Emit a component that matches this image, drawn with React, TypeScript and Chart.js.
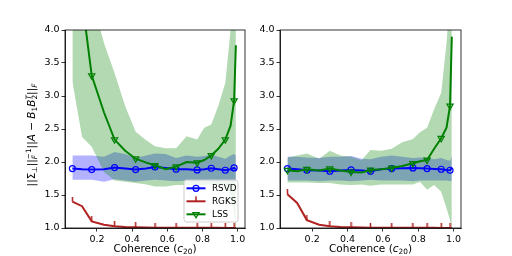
import React, { useEffect, useRef } from "react";
import { Chart, registerables } from "chart.js";
Chart.register(...registerables);

const coherence = [0.06, 0.115, 0.17, 0.24, 0.3, 0.36, 0.42, 0.48, 0.53, 0.59, 0.65, 0.71, 0.77, 0.81, 0.85, 0.89, 0.93, 0.96, 0.98, 0.99];
const xTicks = [0.2, 0.4, 0.6, 0.8, 1.0];
const yTicks = [1.0, 1.5, 2.0, 2.5, 3.0, 3.5, 4.0];
const seriesNames = ["RSVD", "RGKS", "LSS"];

// left panel
const L_RSVD = [1.9, 1.89, 1.885, 1.89, 1.915, 1.9, 1.885, 1.9, 1.925, 1.91, 1.89, 1.89, 1.88, 1.89, 1.905, 1.89, 1.875, 1.89, 1.91, 1.89];
const L_RSVD_HI = [2.1, 2.1, 2.1, 2.08, 2.15, 2.12, 2.06, 2.1, 2.13, 2.12, 2.06, 2.1, 2.08, 2.09, 2.11, 2.08, 2.05, 2.1, 2.12, 2.1];
const L_RSVD_LO = [1.73, 1.73, 1.73, 1.7, 1.74, 1.72, 1.7, 1.72, 1.73, 1.72, 1.71, 1.72, 1.7, 1.72, 1.71, 1.7, 1.72, 1.71, 1.7, 1.71];
const L_RGKS = [1.4, 1.33, 1.1, 1.05, 1.025, 1.015, 1.01, 1.007, 1.005, 1.004, 1.003, 1.003, 1.002, 1.002, 1.002, 1.002, 1.001, 1.001, 1.001, 1.001];
const L_LSS = [6.0, 4.46, 3.31, 2.75, 2.34, 2.17, 2.05, 1.99, 1.95, 1.89, 1.93, 2.0, 1.99, 2.03, 2.1, 2.2, 2.34, 2.55, 2.93, 3.77];
const L_LSS_HI = [8.5, 6.0, 4.5, 3.8, 3.35, 2.85, 2.46, 2.33, 2.24, 2.21, 2.21, 2.39, 2.34, 2.52, 2.57, 2.85, 3.2, 4.0, 5.5, 6.0];
const L_LSS_LO = [3.22, 2.38, 2.23, 1.85, 1.72, 1.7, 1.68, 1.66, 1.63, 1.63, 1.65, 1.65, 1.65, 1.65, 1.66, 1.65, 1.62, 1.5, 1.2, 0.9];

// right panel
const R_RSVD = [1.9, 1.89, 1.875, 1.87, 1.86, 1.87, 1.88, 1.87, 1.86, 1.89, 1.9, 1.905, 1.91, 1.905, 1.9, 1.895, 1.89, 1.88, 1.875, 1.91];
const R_RSVD_HI = [2.08, 2.08, 2.07, 2.06, 2.08, 2.08, 2.09, 2.05, 2.04, 2.08, 2.1, 2.08, 2.06, 2.07, 2.06, 2.04, 2.06, 2.03, 2.02, 2.08];
const R_RSVD_LO = [1.72, 1.72, 1.72, 1.71, 1.72, 1.72, 1.71, 1.72, 1.73, 1.72, 1.72, 1.72, 1.71, 1.72, 1.72, 1.72, 1.72, 1.72, 1.71, 1.72];
const R_RGKS = [1.51, 1.38, 1.12, 1.05, 1.025, 1.015, 1.01, 1.007, 1.005, 1.004, 1.003, 1.003, 1.002, 1.002, 1.002, 1.002, 1.001, 1.001, 1.001, 1.001];
const R_LSS = [1.875, 1.86, 1.89, 1.87, 1.9, 1.87, 1.85, 1.84, 1.88, 1.89, 1.91, 1.94, 1.98, 2.01, 2.03, 2.2, 2.36, 2.52, 2.85, 3.9];
const R_LSS_HI = [2.07, 2.1, 2.13, 2.05, 2.17, 2.1, 2.08, 2.03, 2.18, 2.17, 2.2, 2.3, 2.35, 2.45, 2.52, 2.8, 3.05, 3.8, 4.5, 4.8];
const R_LSS_LO = [1.69, 1.69, 1.69, 1.68, 1.68, 1.66, 1.65, 1.66, 1.64, 1.66, 1.66, 1.66, 1.66, 1.7, 1.58, 1.65, 1.55, 1.3, 1.12, 0.98];

const BLUE = "#0000ff";
const RED = "#b22222";
const GREEN = "#008000";
const FONT = "DejaVu Sans";

type Seg = { t: string; it?: boolean; sub?: string; subIt?: boolean; sup?: string; supIt?: boolean };

const yLabelSegs: Seg[] = [
  { t: "||Σ", sub: "⊥" },
  { t: "||", sub: "F", subIt: true, sup: "−1" },
  { t: "||" },
  { t: "A", it: true },
  { t: " − " },
  { t: "B", it: true, sub: "1" },
  { t: "B", it: true, sub: "2", sup: "T", supIt: true },
  { t: "||", sub: "F", subIt: true },
];
const xLabelSegs: Seg[] = [{ t: "Coherence (" }, { t: "c", it: true, sub: "20" }, { t: ")" }];

function fontStr(size: number, it?: boolean) {
  return `${it ? "italic " : ""}${size}px "${FONT}"`;
}

function drawMath(ctx: CanvasRenderingContext2D, segs: Seg[], cx: number, baseY: number, size: number) {
  const ss = size * 0.7;
  const measure = (t: string, s: number, it?: boolean) => {
    ctx.font = fontStr(s, it);
    return ctx.measureText(t).width;
  };
  let total = 0;
  for (const s of segs) {
    total += measure(s.t, size, s.it);
    total += Math.max(s.sub ? measure(s.sub, ss, s.subIt) : 0, s.sup ? measure(s.sup, ss, s.supIt) : 0);
  }
  let x = cx - total / 2;
  ctx.textAlign = "left";
  ctx.textBaseline = "alphabetic";
  ctx.fillStyle = "#000";
  for (const s of segs) {
    ctx.font = fontStr(size, s.it);
    ctx.fillText(s.t, x, baseY);
    x += ctx.measureText(s.t).width;
    let adv = 0;
    if (s.sub) {
      ctx.font = fontStr(ss, s.subIt);
      ctx.fillText(s.sub, x, baseY + size * 0.22);
      adv = Math.max(adv, ctx.measureText(s.sub).width);
    }
    if (s.sup) {
      ctx.font = fontStr(ss, s.supIt);
      ctx.fillText(s.sup, x, baseY - size * 0.42);
      adv = Math.max(adv, ctx.measureText(s.sup).width);
    }
    x += adv;
  }
}

function makeTick(): HTMLCanvasElement {
  const c = document.createElement("canvas");
  c.width = 3;
  c.height = 10;
  const g = c.getContext("2d")!;
  g.fillStyle = RED;
  g.fillRect(0.75, 0, 1.5, 5);
  return c;
}

type PanelProps = {
  rsvd: number[]; rsvdHi: number[]; rsvdLo: number[];
  rgks: number[]; lss: number[]; lssHi: number[]; lssLo: number[];
  yAxisWidth: number; padRight: number; showYLabel: boolean; showLegend: boolean;
};

function Panel(p: PanelProps) {
  const ref = useRef<HTMLCanvasElement>(null);
  useEffect(() => {
    const tick = makeTick();
    const pts = (arr: number[]) => coherence.map((x, i) => ({ x, y: arr[i] }));
    const everyOther = (r: number) => (c: any) => (c.dataIndex % 2 === 0 ? r : 0);

    const framePlugin = {
      id: "frame",
      afterDatasetsDraw(chart: any) {
        const { ctx, chartArea: a } = chart;
        ctx.save();
        ctx.strokeStyle = "#000";
        ctx.lineWidth = 0.8;
        ctx.strokeRect(a.left, a.top, a.right - a.left, a.bottom - a.top);
        ctx.restore();
      },
    };

    const labelPlugin = {
      id: "labels",
      afterDraw(chart: any) {
        const { ctx, chartArea: a } = chart;
        ctx.save();
        drawMath(ctx, xLabelSegs, (a.left + a.right) / 2, 252, 10.5);
        if (p.showYLabel) {
          ctx.translate(35, 135);
          ctx.rotate(-Math.PI / 2);
          drawMath(ctx, yLabelSegs, 0, 0, 10.5);
        }
        ctx.restore();
      },
    };

    const legendPlugin = {
      id: "customLegend",
      afterDraw(chart: any) {
        if (!p.showLegend) return;
        const { ctx, chartArea: a } = chart;
        const right = a.right - 7;
        const bottom = a.bottom - 6;
        const w = 54, h = 42;
        const left = right - w, top = bottom - h;
        ctx.save();
        ctx.beginPath();
        const r = 2.5;
        ctx.moveTo(left + r, top);
        ctx.arcTo(right, top, right, bottom, r);
        ctx.arcTo(right, bottom, left, bottom, r);
        ctx.arcTo(left, bottom, left, top, r);
        ctx.arcTo(left, top, right, top, r);
        ctx.closePath();
        ctx.fillStyle = "rgba(255,255,255,0.8)";
        ctx.fill();
        ctx.strokeStyle = "#cccccc";
        ctx.lineWidth = 1;
        ctx.stroke();
        const colors = [BLUE, RED, GREEN];
        for (let i = 0; i < 3; i++) {
          const y = top + 8.3 + i * 13;
          const x0 = left + 2.5, x1 = left + 21.5, xm = (x0 + x1) / 2;
          ctx.strokeStyle = colors[i];
          ctx.lineWidth = 2;
          ctx.beginPath();
          ctx.moveTo(x0, y);
          ctx.lineTo(x1, y);
          ctx.stroke();
          ctx.lineWidth = 1.2;
          if (i === 0) {
            ctx.beginPath();
            ctx.arc(xm, y, 3, 0, Math.PI * 2);
            ctx.stroke();
          } else if (i === 1) {
            ctx.fillStyle = RED;
            ctx.fillRect(xm - 0.75, y - 5, 1.5, 5);
          } else {
            const rr = 3.6;
            ctx.beginPath();
            ctx.moveTo(xm, y + rr);
            ctx.lineTo(xm + rr * 0.866, y - rr * 0.5);
            ctx.lineTo(xm - rr * 0.866, y - rr * 0.5);
            ctx.closePath();
            ctx.stroke();
          }
          ctx.fillStyle = "#000";
          ctx.font = `8.8px "${FONT}"`;
          ctx.textAlign = "left";
          ctx.textBaseline = "middle";
          ctx.fillText(seriesNames[i], left + 28, y + 0.5);
        }
        ctx.restore();
      },
    };

    const axisCommon = {
      type: "linear" as const,
      grid: { display: true, drawOnChartArea: false, drawTicks: true, tickLength: 3.5, color: "#000", lineWidth: 0.8 },
      border: { display: true, color: "#000", width: 0.8 },
    };

    const chart = new Chart(ref.current!, {
      type: "line",
      data: {
        datasets: [
          {
            label: seriesNames[0], data: pts(p.rsvd), borderColor: BLUE, borderWidth: 2, tension: 0,
            pointRadius: everyOther(3), pointBorderWidth: 1.2, pointBorderColor: BLUE,
            pointBackgroundColor: "rgba(0,0,0,0)", fill: false, order: 2,
          },
          {
            label: seriesNames[1], data: pts(p.rgks), borderColor: RED, borderWidth: 2, tension: 0,
            pointRadius: everyOther(3), pointStyle: tick as any, fill: false, order: 1,
          },
          {
            label: seriesNames[2], data: pts(p.lss), borderColor: GREEN, borderWidth: 2, tension: 0,
            pointRadius: everyOther(3.6), pointStyle: "triangle", pointRotation: 180, pointBorderWidth: 1.2,
            pointBorderColor: GREEN, pointBackgroundColor: "rgba(0,0,0,0)", fill: false, order: 0,
          },
          {
            label: "rsvd-band-hi", data: pts(p.rsvdHi), borderWidth: 0, pointRadius: 0, borderColor: "rgba(0,0,0,0)",
            backgroundColor: "rgba(0,0,255,0.3)", fill: "+1", tension: 0, order: 6,
          },
          {
            label: "rsvd-band-lo", data: pts(p.rsvdLo), borderWidth: 0, pointRadius: 0, borderColor: "rgba(0,0,0,0)",
            fill: false, tension: 0, order: 6,
          },
          {
            label: "lss-band-hi", data: pts(p.lssHi), borderWidth: 0, pointRadius: 0, borderColor: "rgba(0,0,0,0)",
            backgroundColor: "rgba(0,128,0,0.3)", fill: "+1", tension: 0, order: 5,
          },
          {
            label: "lss-band-lo", data: pts(p.lssLo), borderWidth: 0, pointRadius: 0, borderColor: "rgba(0,0,0,0)",
            fill: false, tension: 0, order: 5,
          },
        ],
      },
      options: {
        animation: false,
        responsive: false,
        events: [],
        layout: { padding: { left: 0, right: p.padRight, top: 30, bottom: 0 } },
        plugins: {
          legend: { display: false },
          tooltip: { enabled: false },
          filler: { drawTime: "beforeDatasetsDraw" },
        } as any,
        scales: {
          x: {
            ...axisCommon,
            min: 0.018,
            max: 1.042,
            afterBuildTicks: (s: any) => { s.ticks = xTicks.map((v) => ({ value: v })); },
            afterFit: (s: any) => { s.height = 28; },
            ticks: {
              callback: (v: any) => Number(v).toFixed(1), font: { family: FONT, size: 9.5 }, color: "#000",
              padding: 2, maxRotation: 0, autoSkip: false,
            },
          },
          y: {
            ...axisCommon,
            min: 1,
            max: 4,
            afterBuildTicks: (s: any) => { s.ticks = yTicks.map((v) => ({ value: v })); },
            afterFit: (s: any) => { s.width = p.yAxisWidth; },
            ticks: {
              callback: (v: any) => Number(v).toFixed(1), font: { family: FONT, size: 9.5 }, color: "#000",
              padding: 2, autoSkip: false,
            },
          },
        },
      } as any,
      plugins: [framePlugin, labelPlugin, legendPlugin],
    });
    return () => chart.destroy();
  }, []);
  return <canvas ref={ref} width={256} height={256} style={{ width: 256, height: 256, display: "block" }} />;
}

export default function App() {
  return (
    <div style={{ position: "fixed", left: 0, top: 0, width: 512, height: 256, background: "#fff", display: "flex" }}>
      <Panel rsvd={L_RSVD} rsvdHi={L_RSVD_HI} rsvdLo={L_RSVD_LO} rgks={L_RGKS} lss={L_LSS} lssHi={L_LSS_HI} lssLo={L_LSS_LO}
        yAxisWidth={65} padRight={11} showYLabel={true} showLegend={true} />
      <Panel rsvd={R_RSVD} rsvdHi={R_RSVD_HI} rsvdLo={R_RSVD_LO} rgks={R_RGKS} lss={R_LSS} lssHi={R_LSS_HI} lssLo={R_LSS_LO}
        yAxisWidth={24} padRight={51} showYLabel={false} showLegend={false} />
    </div>
  );
}
